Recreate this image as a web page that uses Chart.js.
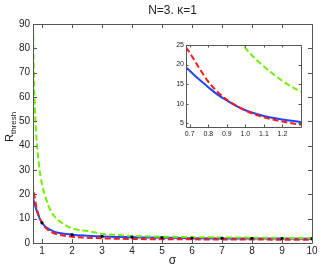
<!DOCTYPE html>
<html><head><meta charset="utf-8">
<script src="https://cdn.jsdelivr.net/npm/chart.js@4.4.0/dist/chart.umd.min.js"></script>
<style>
html,body{margin:0;padding:0;background:#fff;}
#wrap{position:relative;width:323px;height:267px;}
#main{position:absolute;left:0;top:0;}
#inset{position:absolute;left:160px;top:38px;}
</style></head>
<body><div id="wrap"><canvas id="main" width="323" height="267"></canvas><canvas id="inset" width="150" height="105"></canvas></div>
<script>
const sigma = [0.68,0.7,0.75,0.8,0.85,0.9,0.95,1.0,1.1,1.2,1.3,1.4,1.5,1.75,2,2.5,3,3.5,4,5,6,7,8,9,10];
const blueVals = [19.3,18.4,16.2,14.2,12.3,10.8,9.4,8.3,6.8,5.9,5.25,4.7,4.3,3.8,3.4,3.0,2.7,2.5,2.4,2.2,2.0,1.9,1.85,1.8,1.75];
const redVals = [24.4,23.0,19.2,15.6,13.0,11.0,9.5,8.2,6.5,5.4,4.6,4.0,3.6,3.0,2.6,2.2,1.9,1.75,1.65,1.55,1.5,1.45,1.4,1.38,1.35];
const greenSigma = [0.7,0.72,0.75,0.8,0.85,0.9,0.95,1.0,1.1,1.2,1.3,1.4,1.5,1.75,2,2.5,3,3.5,4,5,6,7,8,9,10];
const greenVals = [89,75,60,46,38,32,27.5,24.2,19.5,15.8,13.0,11.2,9.8,7.6,6.0,4.9,3.8,3.3,2.9,2.6,2.4,2.3,2.2,2.1,2.0];
const dotSigma = [1,2,3,4,5,6,7,8,9,10];
const dotVals = [8.3,3.4,2.7,2.4,2.2,2.0,1.9,1.85,1.8,1.75];
const mainXTicks = [1,2,3,4,5,6,7,8,9,10];
const mainYTicks = [0,10,20,30,40,50,60,70,80,90];
const insetXTicks = [0.7,0.8,0.9,1,1.1,1.2];
const insetYTicks = [5,10,15,20,25];

const BLUE = '#2244ff', RED = '#ff1a1a', GREEN = '#70f000', AXIS = '#555';
const FONT = 'Liberation Sans, Arial, sans-serif';

function pts(xs, ys){ return xs.map((x,i)=>({x:x,y:ys[i]})); }

function boxTicks(len){
  return {
    id:'boxTicks',
    afterDraw(chart){
      const ctx = chart.ctx, a = chart.chartArea, xs = chart.scales.x, ys = chart.scales.y;
      ctx.save();
      ctx.strokeStyle = AXIS; ctx.lineWidth = 1;
      ctx.beginPath();
      ctx.rect(Math.round(a.left)+0.5, Math.round(a.top)+0.5, Math.round(a.right-a.left), Math.round(a.bottom-a.top));
      xs.ticks.forEach(t=>{
        const p = Math.round(xs.getPixelForValue(t.value))+0.5;
        ctx.moveTo(p, a.bottom); ctx.lineTo(p, a.bottom-len);
        ctx.moveTo(p, a.top); ctx.lineTo(p, a.top+len);
      });
      ys.ticks.forEach(t=>{
        const p = Math.round(ys.getPixelForValue(t.value))+0.5;
        ctx.moveTo(a.left, p); ctx.lineTo(a.left+len, p);
        ctx.moveTo(a.right, p); ctx.lineTo(a.right-len, p);
      });
      ctx.stroke();
      ctx.restore();
    }
  };
}

const labelsPlugin = {
  id:'labels',
  afterDraw(chart){
    const ctx = chart.ctx, a = chart.chartArea;
    ctx.save();
    ctx.fillStyle = '#222';
    ctx.font = '12px ' + FONT;
    ctx.textAlign = 'center'; ctx.textBaseline = 'middle';
    ctx.fillText('N=3. \u03BA=1', (a.left+a.right)/2, 11);
    ctx.font = '12px ' + FONT;
    ctx.fillText('\u03C3', (a.left+a.right)/2, 261);
    ctx.translate(13, 142);
    ctx.rotate(-Math.PI/2);
    ctx.textAlign = 'left'; ctx.textBaseline = 'alphabetic';
    ctx.font = '11px ' + FONT;
    ctx.fillText('R', 0, 0);
    const w = ctx.measureText('R').width;
    ctx.font = '8px ' + FONT;
    ctx.fillText('thresh', w, 3);
    ctx.restore();
  }
};

const lineDefaults = {showLine:true, pointRadius:0, borderWidth:2, cubicInterpolationMode:'monotone', fill:false};

function datasets(withDots){
  const d = [
    Object.assign({data:pts(sigma, blueVals), borderColor:BLUE, order:4}, lineDefaults),
    Object.assign({data:pts(sigma, redVals), borderColor:RED, borderDash:[6,3], order:2}, lineDefaults),
    Object.assign({data:pts(greenSigma, greenVals), borderColor:GREEN, borderDash:[6,3], order:3}, lineDefaults)
  ];
  if (withDots) d.push({data:pts(dotSigma, dotVals), showLine:false, pointStyle:'rect', pointRadius:2, backgroundColor:'#000', borderColor:'#000', borderWidth:0, order:0});
  return d;
}

new Chart(document.getElementById('main'), {
  type:'scatter',
  data:{datasets:datasets(true)},
  options:{
    responsive:false, animation:false, events:[],
    layout:{padding:{left:0, top:24, right:11, bottom:0}},
    plugins:{legend:{display:false}, tooltip:{enabled:false}},
    scales:{
      x:{type:'linear', min:0.7, max:10,
        afterBuildTicks:s=>{s.ticks = mainXTicks.map(v=>({value:v}));},
        afterFit:s=>{s.height = 24;},
        grid:{display:false, drawTicks:false}, border:{display:false},
        ticks:{padding:2, color:'#222', font:{family:FONT, size:10}, maxRotation:0, autoSkip:false}
      },
      y:{type:'linear', min:0, max:90,
        afterBuildTicks:s=>{s.ticks = mainYTicks.map(v=>({value:v}));},
        afterFit:s=>{s.width = 33;},
        grid:{display:false, drawTicks:false}, border:{display:false},
        ticks:{padding:3, color:'#222', font:{family:FONT, size:10}, autoSkip:false}
      }
    }
  },
  plugins:[boxTicks(4), labelsPlugin]
});

new Chart(document.getElementById('inset'), {
  type:'scatter',
  data:{datasets:datasets(false)},
  options:{
    responsive:false, animation:false, events:[],
    layout:{padding:{left:0, top:7, right:9, bottom:0}},
    plugins:{legend:{display:false}, tooltip:{enabled:false}},
    scales:{
      x:{type:'linear', min:0.68, max:1.3,
        afterBuildTicks:s=>{s.ticks = insetXTicks.map(v=>({value:v}));},
        afterFit:s=>{s.height = 16;},
        grid:{display:false, drawTicks:false}, border:{display:false},
        ticks:{padding:3, color:'#222', font:{family:FONT, size:7}, maxRotation:0, autoSkip:false}
      },
      y:{type:'linear', min:4, max:25,
        afterBuildTicks:s=>{s.ticks = insetYTicks.map(v=>({value:v}));},
        afterFit:s=>{s.width = 26;},
        grid:{display:false, drawTicks:false}, border:{display:false},
        ticks:{padding:2, color:'#222', font:{family:FONT, size:7}, autoSkip:false}
      }
    }
  },
  plugins:[{id:'bg', beforeDraw(c){const a=c.chartArea; c.ctx.save(); c.ctx.fillStyle='#fff'; c.ctx.fillRect(a.left,a.top,a.right-a.left,a.bottom-a.top); c.ctx.restore();}},
           {id:'clip', beforeDatasetsDraw(c){const a=c.chartArea; c.ctx.save(); c.ctx.beginPath(); c.ctx.rect(a.left,a.top,a.right-a.left,a.bottom-a.top); c.ctx.clip();}, afterDatasetsDraw(c){c.ctx.restore();}},
           boxTicks(2.5)]
});
</script></body></html>
